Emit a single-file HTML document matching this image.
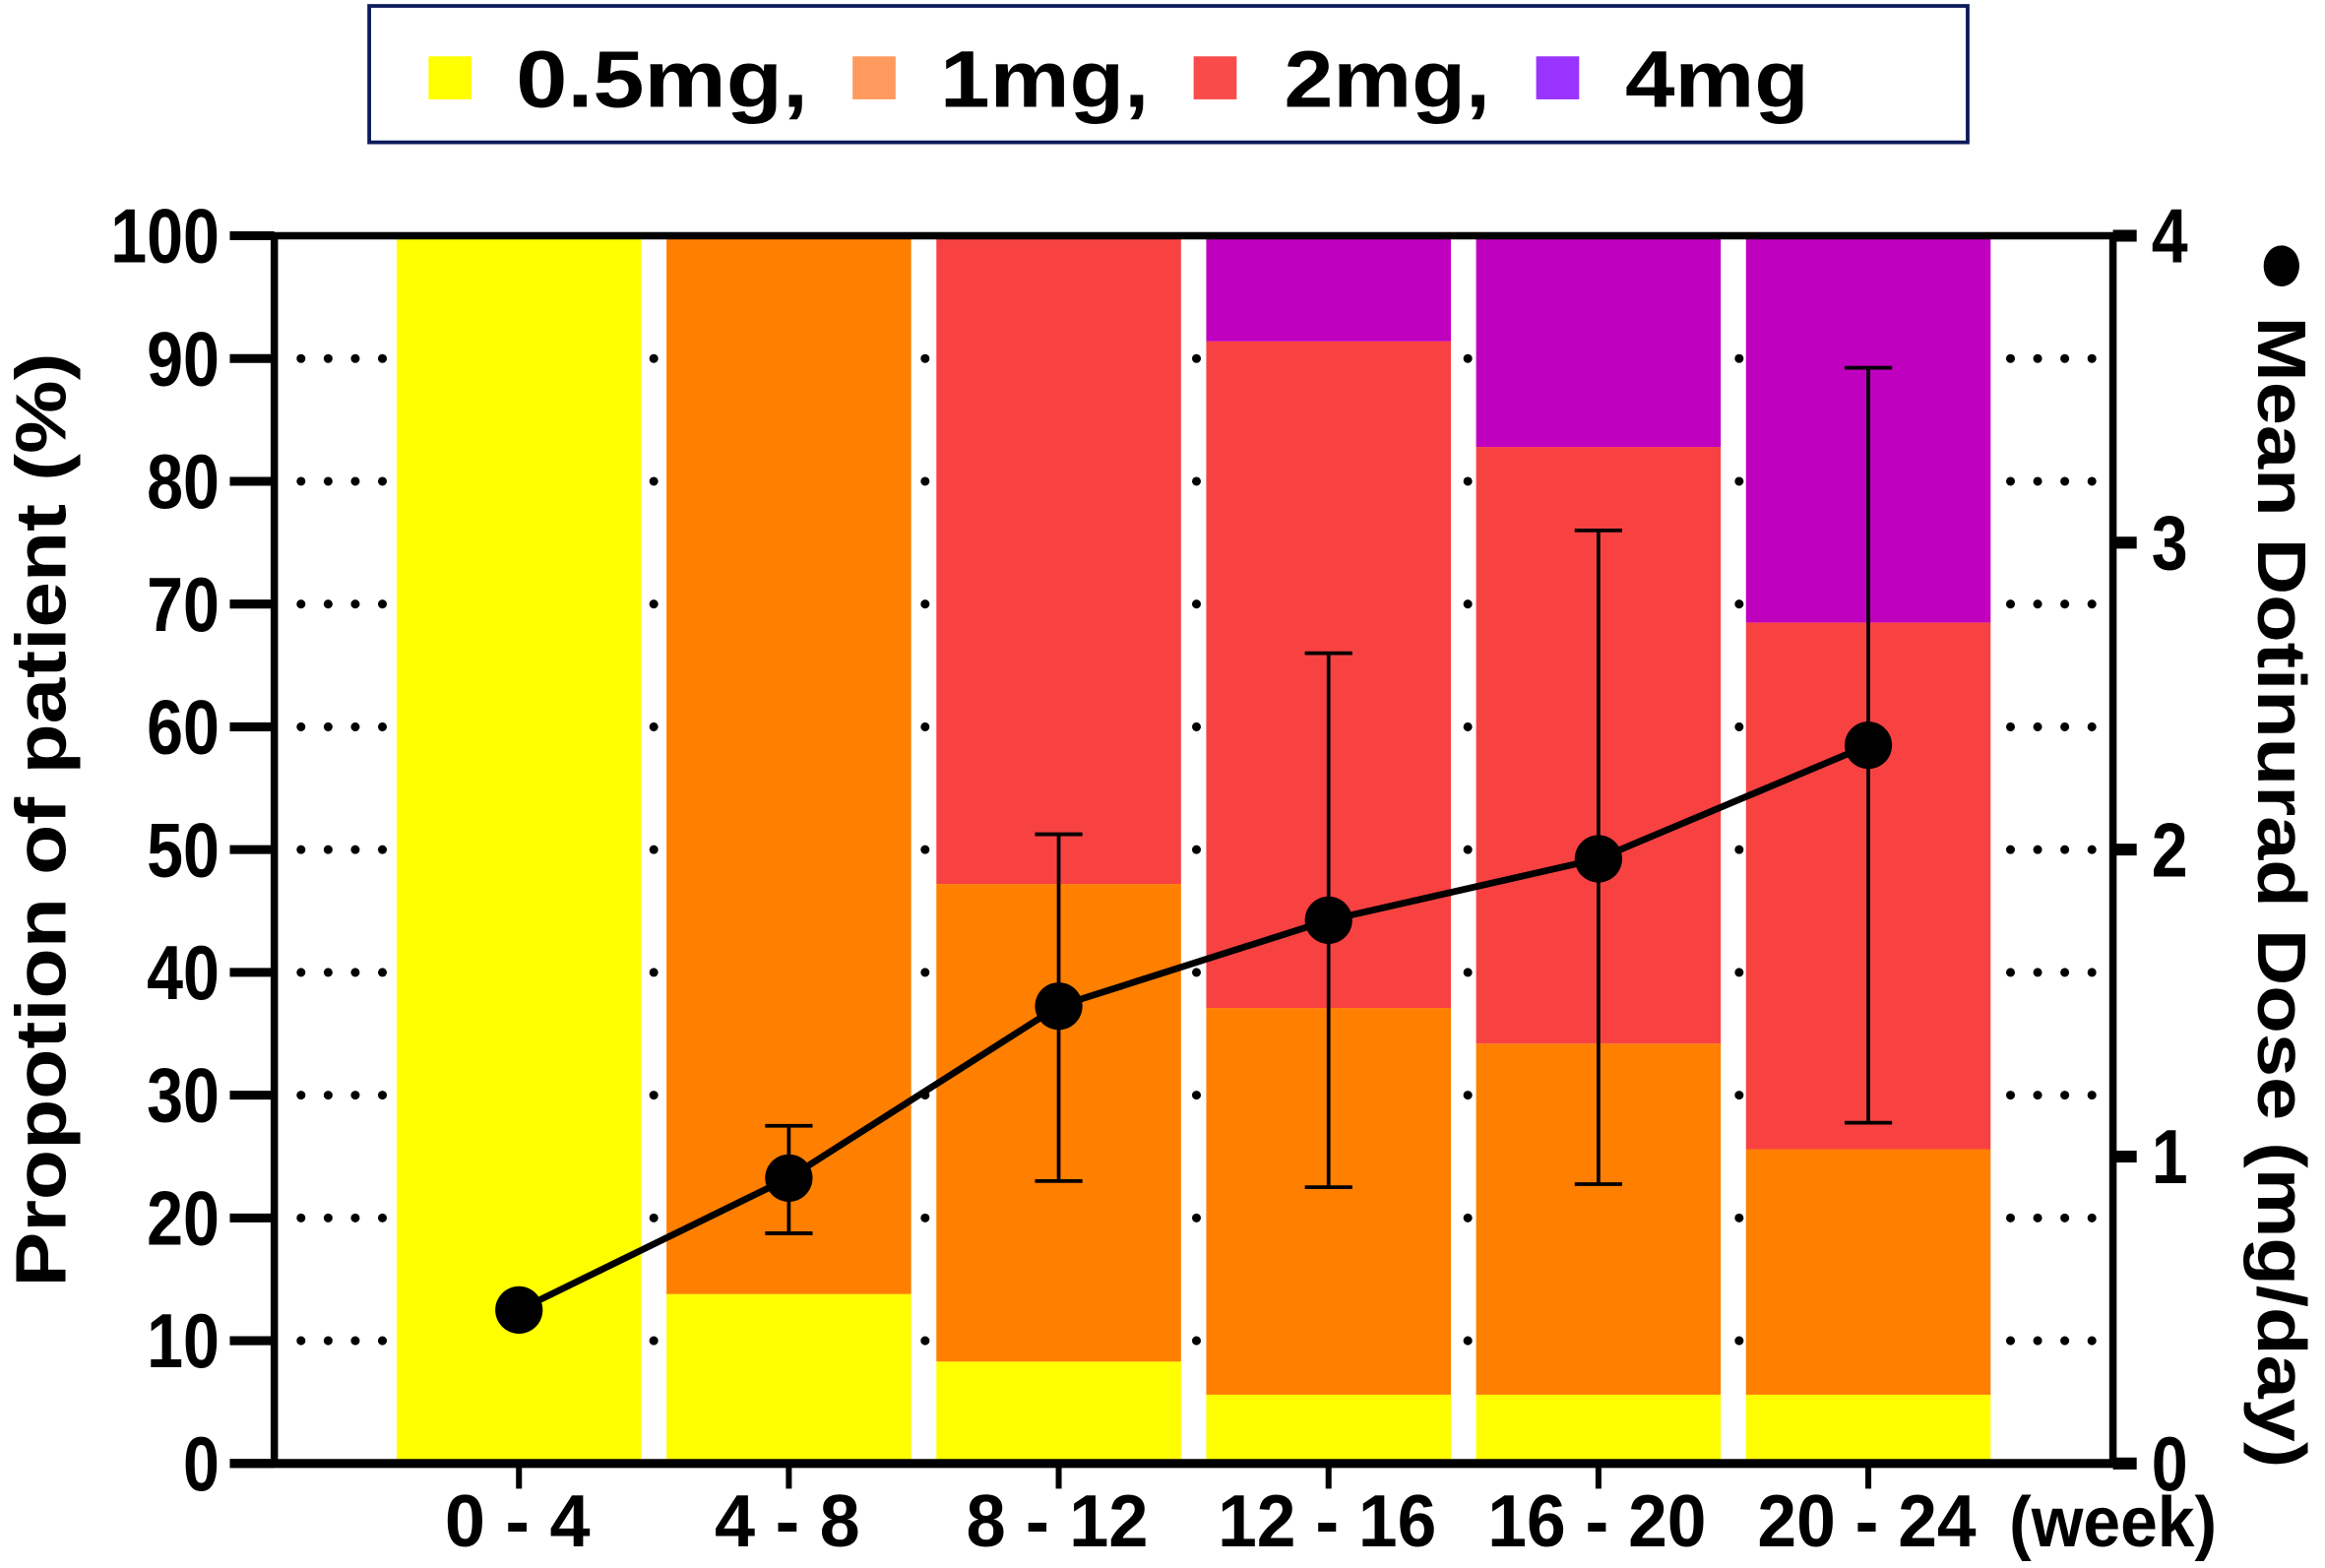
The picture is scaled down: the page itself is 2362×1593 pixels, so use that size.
<!DOCTYPE html>
<html><head><meta charset="utf-8"><style>
html,body{margin:0;padding:0;background:#fff;}
svg{display:block;}
text{font-family:"Liberation Sans",sans-serif;font-weight:bold;fill:#000;}
</style></head><body>
<svg id="chart" width="2362" height="1593" viewBox="0 0 1568 1057.5" xmlns="http://www.w3.org/2000/svg">
<g id="legend">
  <rect x="249" y="4" width="1078" height="92" fill="#fff" stroke="#0a1a5a" stroke-width="2.5"/>
  <rect x="289" y="38" width="29" height="29" fill="#ffff00"/>
  <text x="348" y="72" font-size="54" textLength="197" lengthAdjust="spacingAndGlyphs">0.5mg,</text>
  <rect x="575" y="38" width="29" height="29" fill="#ff9a5e"/>
  <text x="634" y="72" font-size="54" textLength="141" lengthAdjust="spacingAndGlyphs">1mg,</text>
  <rect x="805" y="38" width="29" height="29" fill="#fa4b4b"/>
  <text x="866" y="72" font-size="54" textLength="139" lengthAdjust="spacingAndGlyphs">2mg,</text>
  <rect x="1036" y="38" width="29" height="29" fill="#9933ff"/>
  <text x="1096" y="72" font-size="54" textLength="124" lengthAdjust="spacingAndGlyphs">4mg</text>
</g>
<g id="grid"></g>
<g id="bars"></g>
<g id="axes"></g>
<g id="line"></g>
<text transform="translate(44,553) rotate(-90)" text-anchor="middle" font-size="48" textLength="630" lengthAdjust="spacingAndGlyphs">Propotion of patient (%)</text>
<text transform="translate(1523,575) rotate(90)" text-anchor="middle" font-size="46" textLength="830" lengthAdjust="spacingAndGlyphs"><tspan font-size="56">●</tspan> Mean Dotinurad Dose (mg/day)</text>
<text x="1355" y="1043" font-size="48" textLength="140" lengthAdjust="spacingAndGlyphs">(week)</text>
</svg>
<script>
const categories = ["0 - 4","4 - 8","8 - 12","12 - 16","16 - 20","20 - 24"];
const pct05 = [100, 13.8, 8.3, 5.6, 5.6, 5.6];
const pct1  = [0, 86.2, 38.9, 31.5, 28.6, 20.0];
const pct2  = [0, 0, 52.8, 54.3, 48.6, 42.9];
const pct4  = [0, 0, 0, 8.6, 17.2, 31.5];
const meanDose = [0.50, 0.93, 1.49, 1.77, 1.97, 2.34];
const errHigh = [0.50, 1.10, 2.05, 2.64, 3.04, 3.57];
const errLow  = [0.50, 0.75, 0.92, 0.90, 0.91, 1.11];
const leftTicks = [0,10,20,30,40,50,60,70,80,90,100];
const rightTicks = [0,1,2,3,4];

const NS="http://www.w3.org/2000/svg";
const X0=185, X1=1425, Y0=987, Y1=159;
const firstC=350, step=182, barW=165;
const xPos=i=>firstC+i*step;
const yL=v=>Y0-(v/100)*(Y0-Y1);
const yR=v=>Y0-(v/4)*(Y0-Y1);
function mk(tag,attrs,parent){const e=document.createElementNS(NS,tag);for(const k in attrs)e.setAttribute(k,attrs[k]);parent.appendChild(e);return e;}
const grid=document.getElementById('grid'),bars=document.getElementById('bars'),axes=document.getElementById('axes'),line=document.getElementById('line');

leftTicks.forEach(t=>{ if(t===0||t===100) return;
  const g=mk('line',{x1:203,x2:1420,y1:yL(t),y2:yL(t),stroke:'#000','stroke-width':6,'stroke-linecap':'round','stroke-dasharray':'0 18.3'},grid);
  
  
});

const series=[[pct05,'#ffff00','05mg'],[pct1,'#ff7f00','1mg'],[pct2,'#f84242','2mg'],[pct4,'#bf00bf','4mg']];
categories.forEach((c,i)=>{
  let base=0;
  series.forEach(([arr,col,nm])=>{
    const v=arr[i]; if(v<=0) return;
    const r=mk('rect',{x:xPos(i)-barW/2,y:yL(base+v),width:barW,height:yL(base)-yL(base+v),fill:col},bars);
    
    
    base+=v;
  });
});

let a=mk('line',{x1:X0,x2:X0,y1:Y1-2,y2:Y0+2,stroke:'#000','stroke-width':5},axes);

a=mk('line',{x1:X1,x2:X1,y1:Y1-2,y2:Y0+2,stroke:'#000','stroke-width':5},axes);

a=mk('line',{x1:155,x2:X1,y1:Y1,y2:Y1,stroke:'#000','stroke-width':5},axes);

a=mk('line',{x1:155,x2:X1,y1:Y0,y2:Y0,stroke:'#000','stroke-width':6},axes);

leftTicks.forEach(t=>{
  const l=mk('line',{x1:155,x2:X0,y1:yL(t),y2:yL(t),stroke:'#000','stroke-width':6},axes);
  
  const s=String(t);
  const tx=mk('text',{x:148,y:yL(t)+18,'text-anchor':'end','font-size':52,textLength:s.length*24.5,lengthAdjust:'spacingAndGlyphs'},axes);tx.textContent=s;
  
});
rightTicks.forEach(t=>{
  const l=mk('line',{x1:X1,x2:1441,y1:yR(t),y2:yR(t),stroke:'#000','stroke-width':8},axes);
  
  const tx=mk('text',{x:1451,y:yR(t)+18,'font-size':52,textLength:24.5,lengthAdjust:'spacingAndGlyphs'},axes);tx.textContent=t;
  
});
categories.forEach((c,i)=>{
  const l=mk('line',{x1:xPos(i),x2:xPos(i),y1:Y0,y2:1004,stroke:'#000','stroke-width':4},axes);
  
  const nonSp=c.replace(/ /g,'').length, sp=c.length-nonSp;
  const tx=mk('text',{x:xPos(i)-1,y:1043,'text-anchor':'middle','font-size':50,textLength:nonSp*24.7+sp*12,lengthAdjust:'spacingAndGlyphs'},axes);tx.textContent=c;
  
});

categories.forEach((c,i)=>{
  if(errHigh[i]===errLow[i]) return;
  const g=mk('g',{stroke:'#000','stroke-width':2.5},line);
  
  mk('line',{x1:xPos(i),x2:xPos(i),y1:yR(errHigh[i]),y2:yR(errLow[i])},g);
  mk('line',{x1:xPos(i)-16,x2:xPos(i)+16,y1:yR(errHigh[i]),y2:yR(errHigh[i])},g);
  mk('line',{x1:xPos(i)-16,x2:xPos(i)+16,y1:yR(errLow[i]),y2:yR(errLow[i])},g);
});
const pl=mk('polyline',{points:meanDose.map((v,i)=>xPos(i)+','+yR(v)).join(' '),fill:'none',stroke:'#000','stroke-width':4.5},line);

meanDose.forEach((v,i)=>{
  const p=mk('circle',{cx:xPos(i),cy:yR(v),r:16,fill:'#000'},line);
  
});
</script>
</body></html>
